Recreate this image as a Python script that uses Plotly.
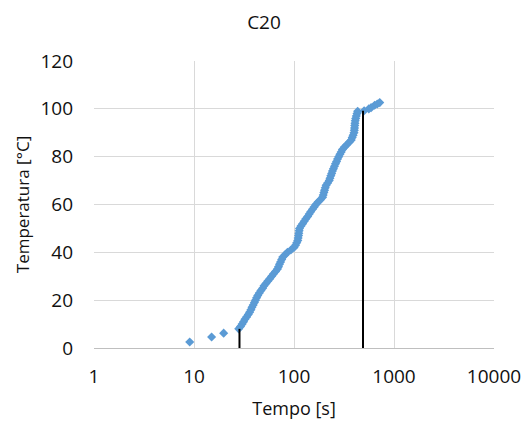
import plotly.graph_objects as go

# Heating curve of sample C20: time [s] vs temperature [°C]
tempo = [9.06, 15.0, 19.8,
         28.0, 29.2, 30.3, 31.3, 32.3, 33.6, 34.9, 36.0, 37.1, 38.0, 39.1, 40.2,
         41.2, 42.3, 43.4, 45.0, 46.7, 48.6, 50.2, 52.4, 54.8, 57.3, 59.8, 62.5,
         65.3, 68.3, 70.0, 71.6, 73.4, 75.3, 77.2, 81.5, 86.0, 93.0, 100.0, 103.5,
         106.5, 109.0, 110.0, 111.0, 111.8, 112.6, 113.5, 117.5, 122.0, 126.5,
         131.5, 137.0, 142.0, 147.0, 153.0, 159.0, 165.5, 174.0, 183.5, 193.0,
         196.0, 199.0, 202.0, 205.5, 209.5, 217.0, 225.0, 229.0, 233.5, 238.0,
         242.5, 248.0, 254.0, 260.0, 266.5, 272.5, 280.0, 288.0, 296.5, 305.0,
         320.0, 337.0, 356.0, 374.0, 382.0, 390.0, 398.0, 401.0, 403.0, 405.0,
         407.0, 409.5, 414.0, 420.0, 427.0, 433.0,
         503.0, 560.0, 590.0, 640.0, 680.0, 720.0]
temperatura = [2.5, 4.6, 6.2,
               8, 9, 10, 11, 12, 13, 14, 15, 16, 17, 18, 19,
               20, 21, 22, 23, 24, 25, 26, 27, 28, 29, 30, 31,
               32, 33, 34, 35, 36, 37, 38, 39, 40, 41, 42, 43,
               44, 45, 46, 47, 48, 49, 50, 51, 52, 53,
               54, 55, 56, 57, 58, 59, 60, 61, 62, 63,
               64, 65, 66, 67, 68, 69, 70, 71, 72, 73,
               74, 75, 76, 77, 78, 79, 80, 81, 82, 83,
               84, 85, 86, 87, 88, 89, 90, 91, 92, 93,
               94, 95, 96, 97, 98, 99,
               99.2, 100.0, 100.5, 101.5, 102.0, 102.6]

# Vertical markers: start and end of the linear heating stage
marker_tempo = [28.5, 490.0]
marker_temp = [8.0, 99.2]

x_ticks = [1, 10, 100, 1000, 10000]
x_ticktext = ["1", "10", "100", "1000", "10000"]

FONT = "Open Sans"
TEXT = "#111"

fig = go.Figure()
fig.add_trace(go.Scatter(
    x=tempo, y=temperatura, mode="markers",
    marker=dict(symbol="diamond", size=7, color="#5B9BD5"),
    showlegend=False,
))
for t, T in zip(marker_tempo, marker_temp):
    fig.add_trace(go.Scatter(
        x=[t, t], y=[0, T], mode="lines",
        line=dict(color="black", width=2), showlegend=False,
    ))

fig.update_layout(
    width=528, height=425,
    margin=dict(l=94, r=34, t=61, b=77),
    paper_bgcolor="white", plot_bgcolor="white",
    title=dict(text="C20", x=0.5, xanchor="center", y=0.948, yanchor="middle",
               font=dict(family=FONT, size=19, color=TEXT)),
    font=dict(family=FONT, color=TEXT),
)
fig.update_xaxes(
    type="log", range=[0, 4], tickvals=x_ticks, ticktext=x_ticktext,
    automargin=False,
    showgrid=True, gridcolor="#d9d9d9", gridwidth=1,
    showline=True, linecolor="#bfbfbf", linewidth=1,
    zeroline=False, ticks="", tickfont=dict(size=19, color=TEXT),
    ticklabelstandoff=11,
    title=dict(text="Tempo [s]", font=dict(size=18, color=TEXT), standoff=14),
)
fig.update_yaxes(
    range=[0, 120], dtick=20, tick0=0,
    automargin=False,
    showgrid=True, gridcolor="#d9d9d9", gridwidth=1,
    showline=False, zeroline=False, ticks="", tickfont=dict(size=19, color=TEXT),
    ticklabelstandoff=20,
    title=dict(text="Temperatura [°C]", font=dict(size=17, color=TEXT), standoff=6),
)

fig.write_html("out.html")
